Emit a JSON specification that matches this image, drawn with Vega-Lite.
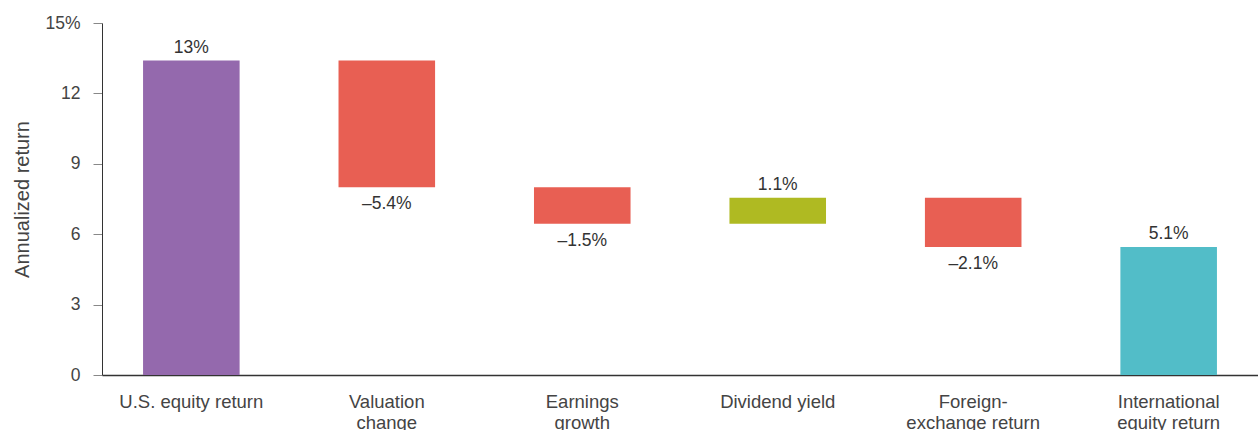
{
  "$schema": "https://vega.github.io/schema/vega-lite/v6.json",
  "width": 1156,
  "height": 352,
  "autosize": {"type": "none"},
  "padding": {"left": 102, "top": 23, "right": 0, "bottom": 55},
  "background": "white",
  "config": {
    "view": {"stroke": null},
    "font": "Liberation Sans"
  },
  "data": {
    "values": [
      {"cat": "U.S. equity return", "start": 0, "end": 13.4, "kind": "total", "label": "13%", "dir": "up"},
      {"cat": "Valuation change", "start": 13.4, "end": 8.0, "kind": "neg", "label": "–5.4%", "dir": "down"},
      {"cat": "Earnings growth", "start": 8.0, "end": 6.45, "kind": "neg", "label": "–1.5%", "dir": "down"},
      {"cat": "Dividend yield", "start": 6.45, "end": 7.55, "kind": "pos", "label": "1.1%", "dir": "up"},
      {"cat": "Foreign-exchange return", "start": 7.55, "end": 5.45, "kind": "neg", "label": "–2.1%", "dir": "down"},
      {"cat": "International equity return", "start": 0, "end": 5.45, "kind": "final", "label": "5.1%", "dir": "up"}
    ]
  },
  "encoding": {
    "x": {
      "field": "cat",
      "type": "nominal",
      "sort": null,
      "scale": {"paddingInner": 0.506, "paddingOuter": 0.21},
      "axis": {
        "title": null,
        "labelAngle": 0,
        "ticks": false,
        "domainColor": "#333",
        "domainWidth": 1.5,
        "labelFontSize": 18.5,
        "labelColor": "#444",
        "labelPadding": 32,
        "labelLineHeight": 21,
        "labelBaseline": "alphabetic",
        "labelExpr": "datum.value == 'Valuation change' ? ['Valuation', 'change'] : datum.value == 'Earnings growth' ? ['Earnings', 'growth'] : datum.value == 'Foreign-exchange return' ? ['Foreign-', 'exchange return'] : datum.value == 'International equity return' ? ['International', 'equity return'] : datum.label"
      }
    }
  },
  "layer": [
    {
      "mark": {"type": "bar"},
      "encoding": {
        "y": {
          "field": "start",
          "type": "quantitative",
          "scale": {"domain": [0, 15], "nice": false},
          "axis": {
            "title": "Annualized return",
            "titleFontSize": 20,
            "titleFontWeight": "normal",
            "titleColor": "#444",
            "titlePadding": 12,
            "values": [0, 3, 6, 9, 12, 15],
            "grid": false,
            "tickSize": 9,
            "tickColor": "#888",
            "domainColor": "#333",
            "labelFontSize": 17.5,
            "labelColor": "#444",
            "labelPadding": 13,
            "labelExpr": "datum.value == 15 ? '15%' : datum.label"
          }
        },
        "y2": {"field": "end"},
        "color": {
          "field": "kind",
          "type": "nominal",
          "scale": {"domain": ["total", "neg", "pos", "final"], "range": ["#9469AD", "#E85F53", "#AFBA22", "#52BDC8"]},
          "legend": null
        }
      }
    },
    {
      "transform": [{"filter": "datum.dir == 'up'"}],
      "mark": {"type": "text", "baseline": "alphabetic", "dy": -8, "fontSize": 17.5, "color": "#333"},
      "encoding": {
        "y": {"field": "end", "type": "quantitative"},
        "text": {"field": "label"}
      }
    },
    {
      "transform": [{"filter": "datum.dir == 'down'"}],
      "mark": {"type": "text", "baseline": "alphabetic", "dy": 22, "fontSize": 17.5, "color": "#333"},
      "encoding": {
        "y": {"field": "end", "type": "quantitative"},
        "text": {"field": "label"}
      }
    }
  ]
}
